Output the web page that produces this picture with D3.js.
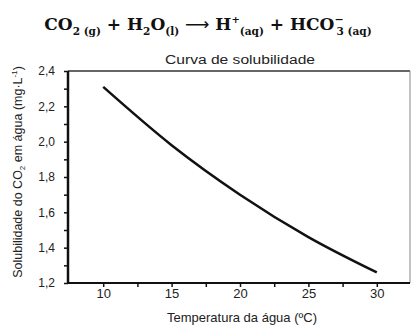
<!DOCTYPE html>
<html>
<head>
<meta charset="utf-8">
<script src="https://cdn.jsdelivr.net/npm/d3@7"></script>
<style>
  body { margin: 0; background: #fff; }
  svg { display: block; }
</style>
</head>
<body>
<figure id="chart" style="margin:0"></figure>
<script>
// data
const temps = [10, 15, 20, 25, 30];
const solubility = [2.31, 1.98, 1.70, 1.46, 1.26];
const xTicks = [10, 15, 20, 25, 30];
const yTicks = [1.2, 1.4, 1.6, 1.8, 2.0, 2.2, 2.4];

const width = 411, height = 325;
const plotLeft = 68, plotRight = 410, plotTop = 71, plotBottom = 283;

const svg = d3.select("#chart").append("svg")
  .attr("width", width)
  .attr("height", height);

const x = d3.scaleLinear().domain([7.5, 32.5]).range([plotLeft + 1, 411]);
const y = d3.scaleLinear().domain([1.2, 2.4]).range([plotBottom, plotTop]);

// equation title
const eq = svg.append("text")
  .attr("x", 208).attr("y", 30)
  .attr("text-anchor", "middle")
  .style("font-family", "'DejaVu Serif', serif")
  .style("font-weight", "bold")
  .style("font-size", "17px")
  .attr("fill", "#111");
const parts = [
  ["CO", 0, 17], ["2 (g)", 5, 10.5], [" + H", -5, 17], ["2", 5, 10.5], ["O", -5, 17],
  ["(l)", 5, 10.5], [" ", -5, 17], ["\u27F6", 0, 17, 0, "'DejaVu Sans'"], [" H", 0, 17],
  ["+", -7, 10], ["(aq)", 12, 10.5], [" + HCO", -5, 17], ["\u2212", -7, 11],
  ["3 (aq)", 12, 10.5, -7]
];
parts.forEach(p => {
  const t = eq.append("tspan").attr("dy", p[1]).attr("dx", p[3] || 0)
    .style("font-size", p[2] + "px").text(p[0]);
  if (p[4]) t.style("font-family", p[4]).style("font-weight", "normal");
});

// subtitle
svg.append("text")
  .attr("x", 240).attr("y", 64)
  .attr("text-anchor", "middle")
  .attr("textLength", 150).attr("lengthAdjust", "spacingAndGlyphs")
  .style("font-family", "'Liberation Sans', Arial, sans-serif")
  .style("font-size", "12px")
  .attr("fill", "#222")
  .text("Curva de solubilidade");

// frame top and right
svg.append("line").attr("x1", plotLeft).attr("x2", plotRight).attr("y1", plotTop).attr("y2", plotTop)
  .attr("stroke", "#666").attr("stroke-width", 2);
svg.append("line").attr("x1", plotRight).attr("x2", plotRight).attr("y1", plotTop).attr("y2", plotBottom)
  .attr("stroke", "#888").attr("stroke-width", 1);

// x axis
const xAxis = svg.append("g")
  .attr("transform", "translate(0," + plotBottom + ")")
  .call(d3.axisBottom(x).tickValues(d3.range(10, 32.5, 2.5)).tickSize(4)
    .tickFormat(d => xTicks.includes(d) ? d : ""));
xAxis.select(".domain").attr("d", "M" + plotLeft + ",0H" + plotRight).attr("stroke", "#111").attr("stroke-width", 2);
xAxis.selectAll(".tick line").attr("stroke", "#111").attr("stroke-width", 1.5);
xAxis.selectAll("text")
  .attr("y", 6)
  .style("font-family", "'Liberation Sans', Arial, sans-serif")
  .style("font-size", "13px").attr("fill", "#222");

// y axis
const yAxis = svg.append("g")
  .attr("transform", "translate(" + plotLeft + ",0)")
  .call(d3.axisLeft(y).tickValues(d3.range(12, 25).map(v => v / 10)).tickSize(4)
    .tickFormat(d => yTicks.some(t => Math.abs(t - d) < 1e-6) ? d3.format(".1f")(d).replace(".", ",") : ""));
yAxis.select(".domain").attr("d", "M0," + plotTop + "V" + plotBottom).attr("stroke", "#111").attr("stroke-width", 2.5);
yAxis.selectAll(".tick line").attr("stroke", "#111").attr("stroke-width", 1.5);
yAxis.selectAll("text")
  .attr("x", -13)
  .style("font-family", "'Liberation Sans', Arial, sans-serif")
  .style("font-size", "12px").attr("fill", "#222");

// axis titles
svg.append("text")
  .attr("x", 242).attr("y", 322)
  .attr("text-anchor", "middle")
  .style("font-family", "'Liberation Sans', Arial, sans-serif")
  .style("font-size", "13px").attr("fill", "#222")
  .text("Temperatura da água (ºC)");

const yt = svg.append("text")
  .attr("transform", "translate(22,172) rotate(-90)")
  .attr("text-anchor", "middle")
  .style("font-family", "'Liberation Sans', Arial, sans-serif")
  .style("font-size", "12.5px").attr("fill", "#222");
yt.append("tspan").text("Solubilidade do CO");
yt.append("tspan").attr("dy", 3).style("font-size", "8px").text("2");
yt.append("tspan").attr("dy", -3).text(" em água (mg·L");
yt.append("tspan").attr("dy", -5).style("font-size", "8px").text("-1");
yt.append("tspan").attr("dy", 5).text(")");

// curve
const line = d3.line()
  .x((d, i) => x(temps[i]))
  .y(d => y(d))
  .curve(d3.curveMonotoneX);
svg.append("path")
  .datum(solubility)
  .attr("d", line)
  .attr("fill", "none")
  .attr("stroke", "#111")
  .attr("stroke-width", 2.5);
</script>
</body>
</html>
